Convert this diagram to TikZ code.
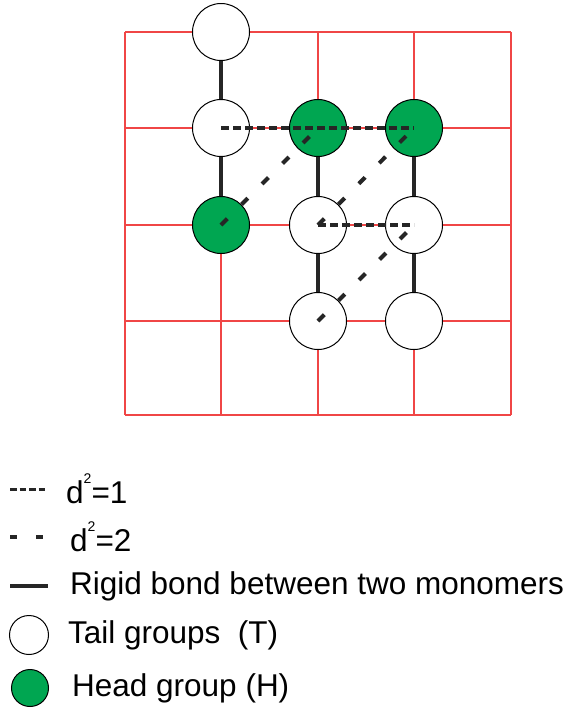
\documentclass[tikz,border=0pt]{standalone}
\usepackage{fontspec}
\setmainfont{Liberation Sans}
\usetikzlibrary{positioning}

\definecolor{headGreen}{RGB}{0,166,81}
\definecolor{gridRed}{RGB}{240,70,70}

\newcommand{\sqsup}{\raisebox{0.62em}{\fontsize{14}{14}\selectfont 2}}

\begin{document}
\begin{tikzpicture}[
                x=1pt, y=-1pt,
                % Lattice Styles
                gridLine/.style = {draw=gridRed, line width=1.1pt},
                tailBox/.style = {circle, draw, line width=1pt, fill=white, minimum size=57pt, inner sep=0pt},
                headBox/.style = {circle, draw, line width=1pt, fill=headGreen, minimum size=57pt, inner sep=0pt},
                % Line Styles
                bondLine/.style = {line width=4.5pt, draw=black!85},
                nearLine/.style = {line width=4pt, draw=black!85, dash pattern=on 8pt off 4pt},
                diagLine/.style = {line width=4pt, draw=black!85, dash pattern=on 9pt off 20pt},
                legendText/.style = {anchor=west, font=\fontsize{31.5}{34}\selectfont, inner sep=0pt}
            ]
                \useasboundingbox (0,0) rectangle (570,710);

                % ==========================================
                % SQUARE LATTICE
                % ==========================================
                \foreach \x in {125,221,318,414,511}
                    \draw[gridLine] (\x,32) -- (\x,415);
                \foreach \y in {32,128,225,321,415}
                    \draw[gridLine] (125,\y) -- (511,\y);

                % ==========================================
                % MONOMERS
                % ==========================================
                \node[tailBox] (T1) at (221,32) {};
                \node[tailBox] (T2) at (221,128) {};
                \node[headBox] (H1) at (318,128) {};
                \node[headBox] (H2) at (414,128) {};
                \node[headBox] (H3) at (221,225) {};
                \node[tailBox] (T3) at (318,225) {};
                \node[tailBox] (T4) at (414,225) {};
                \node[tailBox] (T5) at (318,321) {};
                \node[tailBox] (T6) at (414,321) {};

                % Rigid bonds
                \path[bondLine] (T1) -- (T2);
                \path[bondLine] (T2) -- (H3);
                \path[bondLine] (H1) -- (T3);
                \path[bondLine] (T3) -- (T5);
                \path[bondLine] (H2) -- (T4);
                \path[bondLine] (T4) -- (T6);

                % Neighbour distances
                \path[nearLine] (T2.center) -- (H2.center);
                \path[nearLine] (T3.center) -- (T4.center);
                \path[diagLine] (H3.center) -- (H1.center);
                \path[diagLine] (T3.center) -- (H2.center);
                \path[diagLine] (T5.center) -- (T4.center);

                % ==========================================
                % LEGEND
                % ==========================================
                \coordinate (L1a) at (10,489);
                \coordinate (L1b) at (45,489);
                \coordinate (L2a) at (10,537);
                \coordinate (L2b) at (44,537);
                \coordinate (L3a) at (10,586);
                \coordinate (L3b) at (48,586);
                \path[line width=3pt, draw=black!85, dash pattern=on 6.5pt off 3pt] (L1a) -- (L1b);
                \path[line width=3.5pt, draw=black!85, dash pattern=on 7pt off 19pt] (L2a) -- (L2b);
                \path[line width=3.5pt, draw=black!85] (L3a) -- (L3b);
                \node[tailBox, minimum size=39pt] (LT) at (29,635) {};
                \node[headBox, minimum size=37pt] (LH) at (30,688) {};

                \node[legendText] at (66,489) {d\sqsup=1};
                \node[legendText] at (70,537) {d\sqsup=2};
                \node[legendText] at (70,586) {Rigid bond between two monomers};
                \node[legendText] at (68,635) {Tail groups\ \ (T)};
                \node[legendText] at (72,688) {Head group (H)};

            \end{tikzpicture}
\end{document}
